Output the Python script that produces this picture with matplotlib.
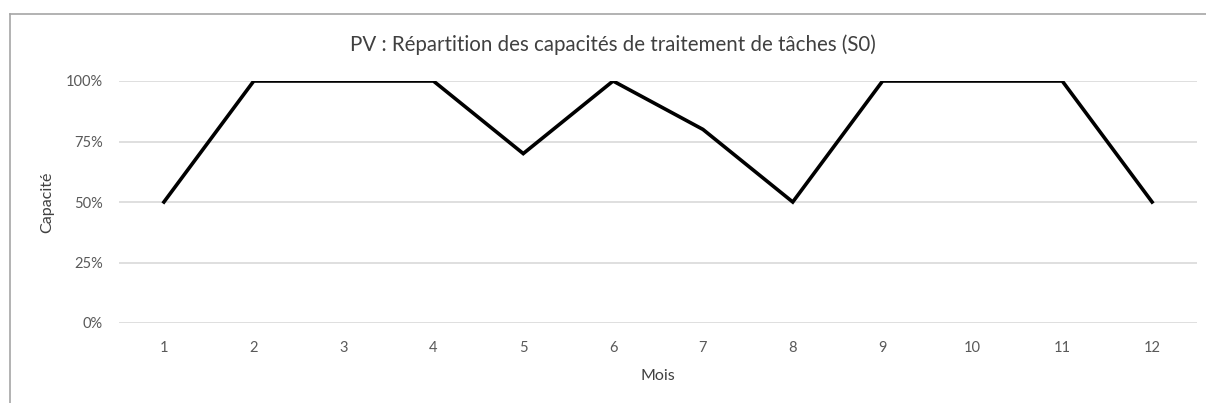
import matplotlib
matplotlib.use("Agg")
import matplotlib.pyplot as plt
from matplotlib.lines import Line2D
from matplotlib.ticker import FuncFormatter

months = [1, 2, 3, 4, 5, 6, 7, 8, 9, 10, 11, 12]
capacity = [0.50, 1.00, 1.00, 1.00, 0.70, 1.00, 0.80, 0.50, 1.00, 1.00, 1.00, 0.50]
yticks = [0, 0.25, 0.5, 0.75, 1.0]

plt.rcParams['font.family'] = ['Lato', 'DejaVu Sans']

W, H = 1206, 403
fig = plt.figure(figsize=(W / 100, H / 100), dpi=100)
ax = fig.add_axes([119 / W, (H - 323) / H, (1197 - 119) / W, (323 - 81) / H])

ax.plot(months, capacity, color='black', linewidth=2.6, solid_joinstyle='miter')
ax.set_xlim(0.5, 12.5)
ax.set_ylim(0, 1)
ax.set_yticks(yticks)
ax.yaxis.set_major_formatter(FuncFormatter(lambda v, p: f"{int(round(v * 100))}%"))
ax.set_xticks(months)
ax.set_xticklabels([str(m) for m in months])
ax.grid(axis='y', color='#d9d9d9', linewidth=1.2)
ax.set_axisbelow(True)
for s in ax.spines.values():
    s.set_visible(False)
ax.tick_params(length=0, labelsize=10.5, colors='#595959')
ax.tick_params(axis='y', pad=11.5)
ax.tick_params(axis='x', pad=13)

fig.text(613 / W, 1 - 45 / H, "PV : Répartition des capacités de traitement de tâches (S0)",
         ha='center', va='center', fontsize=14.8, color='#404040')
fig.text(47 / W, 1 - 202 / H, "Capacité", rotation=90, ha='center', va='center',
         fontsize=11.5, color='#404040')
fig.text(658 / W, 1 - 376 / H, "Mois", ha='center', va='center', fontsize=11.5, color='#404040')

# chart border (top and left visible)
fig.add_artist(Line2D([10 / W, 1.0], [1 - 14 / H, 1 - 14 / H], transform=fig.transFigure,
                      color='#a6a6a6', linewidth=1.2))
fig.add_artist(Line2D([10 / W, 10 / W], [1 - 14 / H, 0], transform=fig.transFigure,
                      color='#a6a6a6', linewidth=1.2))

fig.savefig("out.png", dpi=100)
